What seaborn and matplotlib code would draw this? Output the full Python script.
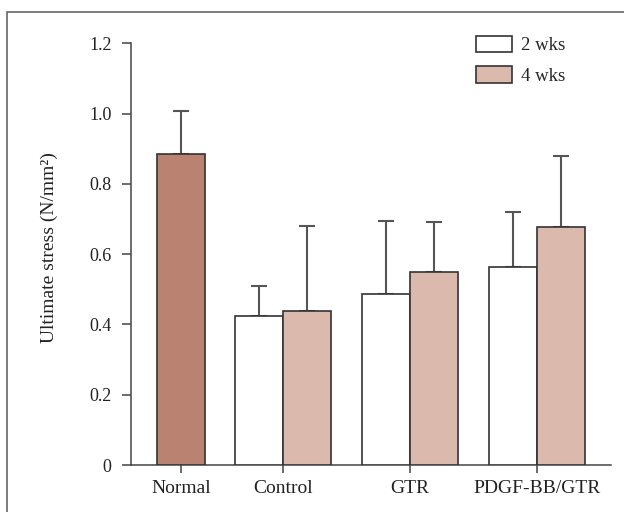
import matplotlib
matplotlib.use("Agg")
import matplotlib.pyplot as plt
import seaborn as sns
import pandas as pd
import numpy as np
from matplotlib.patches import Patch, Rectangle

# ---- data ----
groups = ["Normal", "Control", "GTR", "PDGF-BB/GTR"]
bar_group = ["Normal", "Control", "Control", "GTR", "GTR", "PDGF-BB/GTR", "PDGF-BB/GTR"]
bar_series = ["Normal", "2 wks", "4 wks", "2 wks", "4 wks", "2 wks", "4 wks"]
means = [0.884, 0.425, 0.438, 0.487, 0.550, 0.563, 0.676]
upper = [1.006, 0.510, 0.679, 0.695, 0.691, 0.719, 0.880]
yticks = [0, 0.2, 0.4, 0.6, 0.8, 1.0, 1.2]
ytick_labels = ["0", "0.2", "0.4", "0.6", "0.8", "1.0", "1.2"]
legend_series = ["2 wks", "4 wks"]
ylabel = "Ultimate stress (N/mm²)"

colors = {"Normal": "#BA8371", "2 wks": "#FFFFFF", "4 wks": "#DBB9AD"}

# ---- layout (positions of groups along x) ----
group_center = {"Normal": 0.0, "Control": 2.115, "GTR": 4.76, "PDGF-BB/GTR": 7.406}
series_offset = {"Normal": 0.0, "2 wks": -0.5, "4 wks": 0.5}

df = pd.DataFrame({
    "group": bar_group,
    "series": bar_series,
    "mean": means,
    "upper": upper,
})
df["x"] = [group_center[g] + series_offset[s] for g, s in zip(df["group"], df["series"])]
df["err"] = df["upper"] - df["mean"]

sns.set_theme(style="ticks")
plt.rcParams["font.family"] = ["Liberation Serif", "DejaVu Serif"]

fig = plt.figure(figsize=(6.24, 5.12), dpi=100)
ax = fig.add_axes([131 / 624, 1 - 465 / 512, 480 / 624, 421.7 / 512])

edge = "#333333"
sns.barplot(data=df, x="x", y="mean", hue="series", palette=colors,
            hue_order=["Normal", "2 wks", "4 wks"], native_scale=True,
            dodge=False, width=1.0, saturation=1, edgecolor=edge,
            linewidth=1.2, errorbar=None, legend=False, ax=ax, zorder=3)

ax.errorbar(df["x"], df["mean"], yerr=[np.zeros(len(df)), df["err"]],
            fmt="none", ecolor="#555555", elinewidth=1.5, capsize=5.6,
            capthick=1.5, zorder=2)

ax.set_xlim(-1.052, 8.948)
ax.set_ylim(0, 1.2)
ax.set_yticks(yticks)
ax.set_yticklabels(ytick_labels)
ax.set_xticks([group_center[g] for g in groups])
ax.set_xticklabels(groups)
ax.set_xlabel("")
ax.set_ylabel(ylabel, fontsize=14, color="#222222")
ax.yaxis.set_label_coords(-0.152, 0.516)

sns.despine(ax=ax)
for sp in ["left", "bottom"]:
    ax.spines[sp].set_color("#444444")
    ax.spines[sp].set_linewidth(1.1)
ax.tick_params(axis="y", length=6.5, width=1.1, color="#444444", pad=7.5,
               labelsize=13, labelcolor="#222222")
ax.tick_params(axis="x", length=6, width=1.1, color="#444444", pad=5,
               labelsize=14, labelcolor="#222222")

handles = [Patch(facecolor=colors[s], edgecolor=edge, linewidth=1.2) for s in legend_series]
fig.legend(handles, legend_series, loc="upper left",
           bbox_to_anchor=(475.7 / 624, 1 - 35.5 / 512), frameon=False,
           fontsize=13.5, handlelength=1.92, handleheight=1.0,
           labelspacing=0.62, handletextpad=0.5, borderpad=0, borderaxespad=0)

fig.patches.append(Rectangle((7 / 624, -0.1), 1.2, 1 - 12.3 / 512 + 0.1,
                             transform=fig.transFigure, fill=False,
                             edgecolor="#666666", linewidth=1.2))

fig.savefig("out.png", dpi=100)
